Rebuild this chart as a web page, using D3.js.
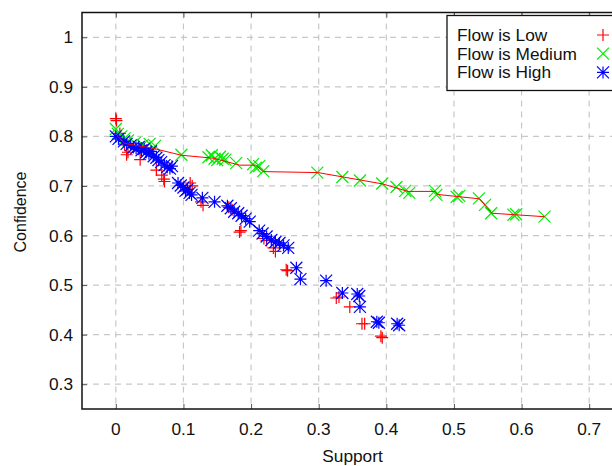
<!DOCTYPE html>
<html>
<head>
<meta charset="utf-8">
<script src="https://cdn.jsdelivr.net/npm/d3@7"></script>
<style>
  body { margin: 0; background: #fff; }
  svg { display: block; }
  text { font-family: "Liberation Sans", Arial, sans-serif; fill: #111; }
</style>
</head>
<body>
<svg id="chart" width="612" height="466"></svg>
<script>
// support / confidence pairs
const lowPoints = [
  [0.0, 0.836], [0.001, 0.832], [0.006, 0.806], [0.013, 0.783], [0.016, 0.763], [0.018, 0.768],
  [0.036, 0.753], [0.06, 0.732], [0.068, 0.722], [0.071, 0.714], [0.072, 0.709], [0.11, 0.706],
  [0.113, 0.700], [0.126, 0.668], [0.129, 0.661], [0.167, 0.657], [0.172, 0.652], [0.183, 0.607],
  [0.185, 0.610], [0.219, 0.594], [0.223, 0.590], [0.233, 0.575], [0.236, 0.568], [0.252, 0.531],
  [0.254, 0.529], [0.326, 0.474], [0.330, 0.476], [0.346, 0.456], [0.364, 0.422], [0.368, 0.422],
  [0.392, 0.397], [0.394, 0.394]
];
const mediumPoints = [
  [0.0, 0.815], [0.003, 0.805], [0.008, 0.80], [0.013, 0.796], [0.018, 0.792], [0.028, 0.787],
  [0.04, 0.783], [0.05, 0.785], [0.058, 0.781], [0.097, 0.763], [0.137, 0.758], [0.142, 0.762],
  [0.146, 0.755], [0.150, 0.752], [0.154, 0.759], [0.158, 0.755], [0.162, 0.753], [0.178, 0.746],
  [0.203, 0.744], [0.207, 0.737], [0.212, 0.740], [0.218, 0.730], [0.298, 0.727], [0.335, 0.718],
  [0.361, 0.711], [0.394, 0.705], [0.415, 0.698], [0.428, 0.690], [0.434, 0.686], [0.472, 0.690],
  [0.474, 0.682], [0.504, 0.678], [0.508, 0.680], [0.537, 0.675], [0.546, 0.662], [0.555, 0.645],
  [0.588, 0.642], [0.592, 0.643], [0.634, 0.638]
];
const highPoints = [
  [0.0, 0.80], [0.004, 0.795], [0.012, 0.790], [0.016, 0.785], [0.022, 0.782], [0.026, 0.778],
  [0.03, 0.776], [0.034, 0.779], [0.038, 0.772], [0.042, 0.775], [0.045, 0.768], [0.049, 0.765],
  [0.052, 0.770], [0.056, 0.760], [0.06, 0.757], [0.063, 0.752], [0.067, 0.748], [0.072, 0.742],
  [0.076, 0.738], [0.08, 0.735], [0.083, 0.740], [0.092, 0.706], [0.096, 0.701], [0.1, 0.697],
  [0.103, 0.690], [0.106, 0.693], [0.109, 0.686], [0.112, 0.682], [0.128, 0.676], [0.146, 0.668],
  [0.165, 0.660], [0.170, 0.655], [0.175, 0.648], [0.181, 0.645], [0.186, 0.640], [0.192, 0.634],
  [0.198, 0.628], [0.212, 0.610], [0.217, 0.604], [0.223, 0.598], [0.230, 0.591], [0.236, 0.587],
  [0.242, 0.585], [0.248, 0.580], [0.255, 0.575], [0.267, 0.535], [0.273, 0.512], [0.311, 0.509],
  [0.335, 0.484], [0.357, 0.482], [0.360, 0.478], [0.361, 0.456], [0.386, 0.426], [0.389, 0.424],
  [0.416, 0.422], [0.419, 0.419]
];
// red trend line running along the medium points
const mediumLine = [
  [0.003, 0.80], [0.013, 0.786], [0.055, 0.776], [0.097, 0.762], [0.144, 0.756], [0.164, 0.749],
  [0.183, 0.742], [0.207, 0.742], [0.218, 0.729], [0.299, 0.727], [0.395, 0.704], [0.432, 0.689],
  [0.472, 0.689], [0.475, 0.683], [0.538, 0.674], [0.556, 0.645], [0.590, 0.642], [0.634, 0.638]
];
const xTicks = [0, 0.1, 0.2, 0.3, 0.4, 0.5, 0.6, 0.7];
const yTicks = [0.3, 0.4, 0.5, 0.6, 0.7, 0.8, 0.9, 1];
const legendLabels = ['Flow is Low', 'Flow is Medium', 'Flow is High'];

const svg = d3.select('#chart');
const plotLeft = 82, plotRight = 623, plotTop = 12.5, plotBottom = 409;

const x = d3.scaleLinear().domain([-0.05, 0.75]).range([plotLeft, plotRight]);
const y = d3.scaleLinear().domain([0.25, 1.05]).range([plotBottom, plotTop]);

const stretch = 1.08; // the glyphs in the picture are a bit wide

// grid
svg.append('g')
  .selectAll('line').data(xTicks).join('line')
  .attr('x1', d => x(d)).attr('x2', d => x(d))
  .attr('y1', plotTop).attr('y2', plotBottom)
  .attr('stroke', '#c8c8c8').attr('stroke-width', 1.2).attr('stroke-dasharray', '6,5');
svg.append('g')
  .selectAll('line').data(yTicks).join('line')
  .attr('x1', plotLeft).attr('x2', plotRight)
  .attr('y1', d => y(d)).attr('y2', d => y(d))
  .attr('stroke', '#c8c8c8').attr('stroke-width', 1.2).attr('stroke-dasharray', '6,5');

// axes with inward ticks, no labels from the axis itself
const axisB = svg.append('g').attr('transform', `translate(0,${plotBottom})`)
  .call(d3.axisBottom(x).tickValues(xTicks).tickSize(-5).tickFormat(''));
const axisT = svg.append('g').attr('transform', `translate(0,${plotTop})`)
  .call(d3.axisTop(x).tickValues(xTicks).tickSize(-5).tickFormat(''));
const axisL = svg.append('g').attr('transform', `translate(${plotLeft},0)`)
  .call(d3.axisLeft(y).tickValues(yTicks).tickSize(-5).tickFormat(''));
[axisB, axisT, axisL].forEach(g => {
  g.select('.domain').remove();
  g.selectAll('.tick line').attr('stroke', '#555').attr('stroke-width', 1);
});

// frame
svg.append('rect')
  .attr('x', plotLeft).attr('y', plotTop)
  .attr('width', plotRight - plotLeft).attr('height', plotBottom - plotTop)
  .attr('fill', 'none').attr('stroke', '#111').attr('stroke-width', 1.5);

// tick labels
svg.append('g').selectAll('text').data(xTicks).join('text')
  .attr('transform', d => `translate(${x(d)},435) scale(${stretch},1)`)
  .attr('text-anchor', 'middle').attr('font-size', 16)
  .text(d => d3.format('')(d));
svg.append('g').selectAll('text').data(yTicks).join('text')
  .attr('transform', d => `translate(73,${y(d) + 6}) scale(${stretch},1)`)
  .attr('text-anchor', 'end').attr('font-size', 16)
  .text(d => d3.format('')(d));

svg.append('text')
  .attr('transform', `translate(${x(0.35)},462) scale(${stretch},1)`)
  .attr('text-anchor', 'middle').attr('font-size', 16).text('Support');
svg.append('text')
  .attr('transform', `translate(26,212) rotate(-90) scale(1,${stretch})`)
  .attr('text-anchor', 'middle').attr('font-size', 16).text('Confidence');

// markers
const s = 6;
const plus = `M${-s},0H${s}M0,${-s}V${s}`;
const cross = `M${-s},${-s}L${s},${s}M${-s},${s}L${s},${-s}`;
const star = `M${-s},0H${s}M0,${-s}V${s}M${-s},${-s}L${s},${s}M${-s},${s}L${s},${-s}`;

const series = [
  { pts: lowPoints, path: plus, color: '#ff0000' },
  { pts: mediumPoints, path: cross, color: '#00ee00' },
  { pts: highPoints, path: star, color: '#0000ff' }
];

series.forEach(ser => {
  svg.append('g').selectAll('path').data(ser.pts).join('path')
    .attr('transform', d => `translate(${x(d[0])},${y(d[1])})`)
    .attr('d', ser.path)
    .attr('fill', 'none').attr('stroke', ser.color).attr('stroke-width', 1.2);
});

svg.append('path')
  .datum(mediumLine)
  .attr('d', d3.line().x(d => x(d[0])).y(d => y(d[1])))
  .attr('fill', 'none').attr('stroke', '#ff0000').attr('stroke-width', 1);

// legend
const legend = svg.append('g');
legend.append('rect')
  .attr('x', 447).attr('y', 15.5).attr('width', 200).attr('height', 75)
  .attr('fill', '#fff').attr('stroke', '#111').attr('stroke-width', 1.3);
legendLabels.forEach((label, i) => {
  const ly = 35 + i * 18.7;
  legend.append('text')
    .attr('transform', `translate(457,${ly + 6}) scale(${stretch},1)`)
    .attr('font-size', 16).text(label);
  legend.append('path')
    .attr('transform', `translate(603,${ly})`)
    .attr('d', series[i].path)
    .attr('fill', 'none').attr('stroke', series[i].color).attr('stroke-width', 1.2);
});
</script>
</body>
</html>
